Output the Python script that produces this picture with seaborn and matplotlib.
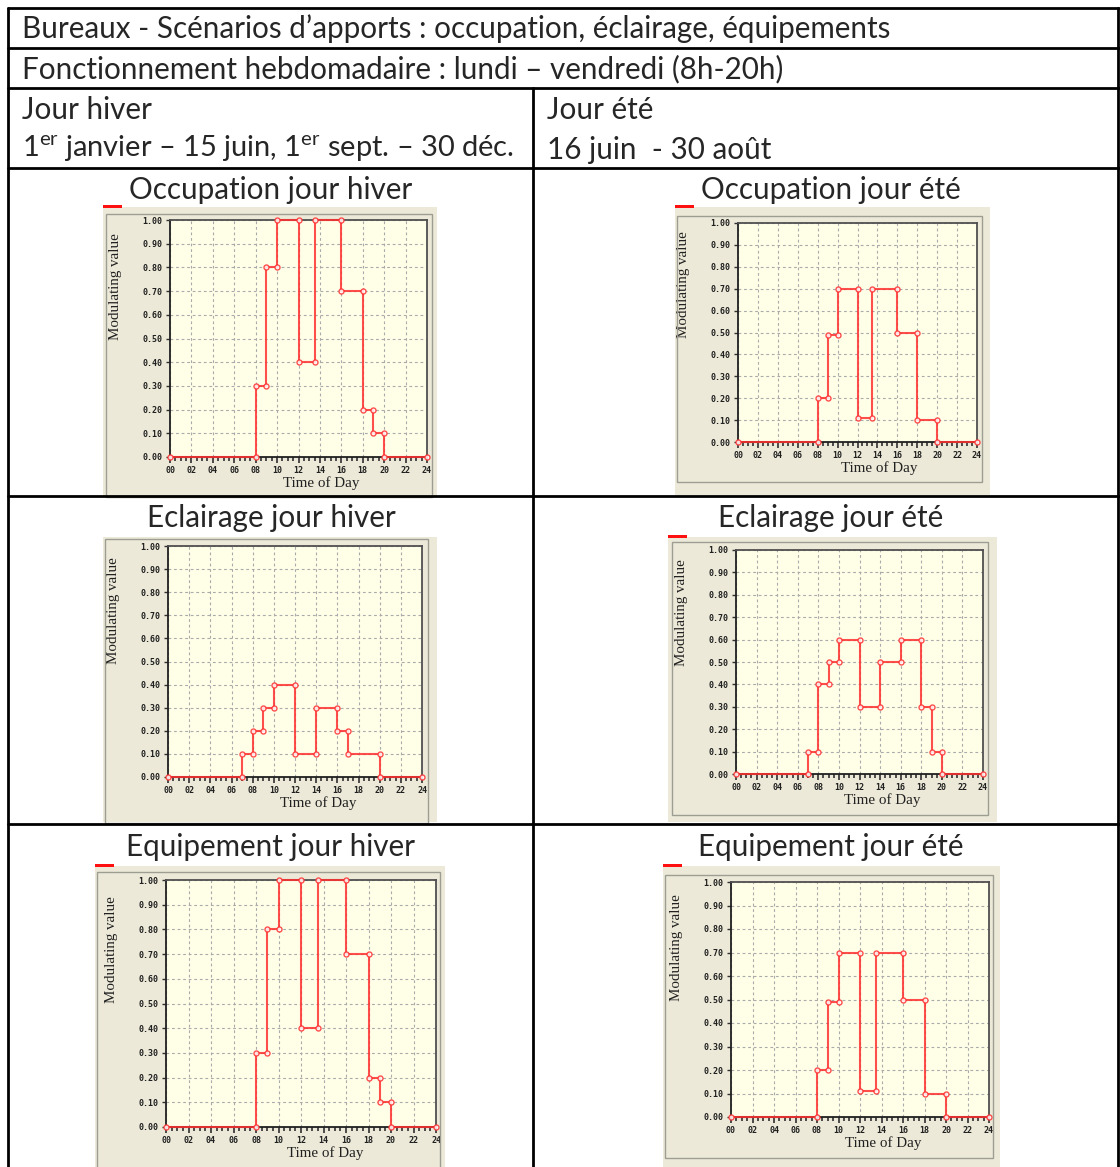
import numpy as np
import pandas as pd
import matplotlib
matplotlib.use("Agg")
import matplotlib.pyplot as plt
import seaborn as sns
from matplotlib.patches import Rectangle
from matplotlib.lines import Line2D
from matplotlib.ticker import MultipleLocator, FixedLocator

# ---------------- data ----------------
occ_hiver_hours = [0, 8, 9, 10, 12, 13.5, 16, 18, 19, 20, 24]
occ_hiver_values = [0.0, 0.3, 0.8, 1.0, 0.4, 1.0, 0.7, 0.2, 0.1, 0.0]

occ_ete_hours = [0, 8, 9, 10, 12, 13.5, 16, 18, 20, 24]
occ_ete_values = [0.0, 0.2, 0.49, 0.7, 0.11, 0.7, 0.5, 0.1, 0.0]

ecl_hiver_hours = [0, 7, 8, 9, 10, 12, 14, 16, 17, 20, 24]
ecl_hiver_values = [0.0, 0.1, 0.2, 0.3, 0.4, 0.1, 0.3, 0.2, 0.1, 0.0]

ecl_ete_hours = [0, 7, 8, 9, 10, 12, 14, 16, 18, 19, 20, 24]
ecl_ete_values = [0.0, 0.1, 0.4, 0.5, 0.6, 0.3, 0.5, 0.6, 0.3, 0.1, 0.0]

equ_hiver_hours = [0, 8, 9, 10, 12, 13.5, 16, 18, 19, 20, 24]
equ_hiver_values = [0.0, 0.3, 0.8, 1.0, 0.4, 1.0, 0.7, 0.2, 0.1, 0.0]

equ_ete_hours = [0, 8, 9, 10, 12, 13.5, 16, 18, 20, 24]
equ_ete_values = [0.0, 0.2, 0.49, 0.7, 0.11, 0.7, 0.5, 0.1, 0.0]

y_ticks = [0.0, 0.1, 0.2, 0.3, 0.4, 0.5, 0.6, 0.7, 0.8, 0.9, 1.0]
y_tick_labels = ["0.00", "0.10", "0.20", "0.30", "0.40", "0.50",
                 "0.60", "0.70", "0.80", "0.90", "1.00"]
x_ticks = [0, 2, 4, 6, 8, 10, 12, 14, 16, 18, 20, 22, 24]
x_tick_labels = ["00", "02", "04", "06", "08", "10", "12",
                 "14", "16", "18", "20", "22", "24"]

title_main = "Bureaux - Scénarios d\u2019apports : occupation, éclairage, équipements"
title_week = "Fonctionnement hebdomadaire : lundi \u2013 vendredi (8h-20h)"
col_hiver = "Jour hiver"
period_hiver = "1$^{\\mathrm{er}}$ janvier \u2013 15 juin, 1$^{\\mathrm{er}}$ sept. \u2013 30 déc."
col_ete = "Jour été"
period_ete = "16 juin  - 30 août"
chart_titles = ["Occupation jour hiver", "Occupation jour été",
                "Eclairage jour hiver", "Eclairage jour été",
                "Equipement jour hiver", "Equipement jour été"]

# ---------------- style ----------------
sns.set_theme(style="white")
plt.rcParams["font.family"] = ["Lato", "DejaVu Sans"]
plt.rcParams["mathtext.fontset"] = "custom"
plt.rcParams["mathtext.rm"] = "Lato"

W, H = 1120, 1167
fig = plt.figure(figsize=(W / 100, H / 100), dpi=100)
fig.patch.set_facecolor("white")


def fx(x):
    return x / W


def fy(y):
    return 1 - y / H


def hline(y, x0, x1, lw=2.0, color="black"):
    fig.add_artist(Line2D([fx(x0), fx(x1)], [fy(y), fy(y)], color=color, lw=lw,
                          transform=fig.transFigure))


def vline(x, y0, y1, lw=2.0, color="black"):
    fig.add_artist(Line2D([fx(x), fx(x)], [fy(y0), fy(y1)], color=color, lw=lw,
                          transform=fig.transFigure))


def rect(x0, y0, x1, y1, **kw):
    fig.add_artist(Rectangle((fx(x0), fy(y1)), fx(x1) - fx(x0), fy(y0) - fy(y1),
                             transform=fig.transFigure, **kw))


# ---------------- table ----------------
for yy in [8, 48, 88, 168, 496, 824]:
    hline(yy, 8, 1119)
vline(8, 8, 1167)
vline(1118, 8, 1167)
vline(533, 88, 1167)

TFS = 21.3
fig.text(fx(22), fy(29), title_main, fontsize=TFS, va="center", ha="left")
fig.text(fx(22), fy(69), title_week, fontsize=TFS, va="center", ha="left")
fig.text(fx(22), fy(110), col_hiver, fontsize=TFS, va="center", ha="left")
fig.text(fx(22), fy(149), period_hiver, fontsize=20.9, va="center", ha="left")
fig.text(fx(547), fy(110), col_ete, fontsize=TFS, va="center", ha="left")
fig.text(fx(547), fy(150), period_ete, fontsize=TFS, va="center", ha="left")

# ---------------- charts ----------------
charts = [
    # hours, values, panel outer, panel inner, plot area (x0, y1, x24, y0), title center, swatch
    (occ_hiver_hours, occ_hiver_values, (103, 207, 437, 496), (106, 214, 432, 497),
     (170, 220, 427, 457), (271, 190), True),
    (occ_ete_hours, occ_ete_values, (675, 207, 990, 495), (677, 216, 982, 482),
     (738, 223, 977, 442), (831, 190), True),
    (ecl_hiver_hours, ecl_hiver_values, (103, 537, 437, 822), (105, 539, 428, 823),
     (168, 546, 422, 777), (271, 518), False),
    (ecl_ete_hours, ecl_ete_values, (668, 537, 997, 822), (672, 542, 988, 815),
     (736, 550, 983, 774), (831, 518), True),
    (equ_hiver_hours, equ_hiver_values, (95, 866, 445, 1167), (97, 872, 440, 1168),
     (166, 880, 436, 1127), (271, 847), True),
    (equ_ete_hours, equ_ete_values, (663, 866, 1000, 1167), (665, 875, 993, 1158),
     (731, 882, 989, 1117), (831, 847), True),
]

line_red = "#ff3030"
grid_col = "#aaaaaa"

for i, (hours, values, outer, inner, area, tpos, swatch) in enumerate(charts):
    fig.text(fx(tpos[0]), fy(tpos[1]), chart_titles[i], fontsize=TFS,
             ha="center", va="center")
    rect(*outer, facecolor="#ece9d8", edgecolor="none", zorder=0)
    rect(*inner, facecolor="none", edgecolor="#9d9d92", lw=1.0, zorder=1)
    if swatch:
        rect(outer[0], outer[1] - 2, outer[0] + 19, outer[1] + 1,
             facecolor="#ff1010", edgecolor="none", zorder=2)

    x0, y1, x24, y0 = area
    aw, ah = x24 - x0, y0 - y1
    ax = fig.add_axes([fx(x0), fy(y0), fx(x24) - fx(x0), fy(y1) - fy(y0)])
    ax.set_facecolor("#ffffe8")

    xs, ys = [], []
    for k, v in enumerate(values):
        xs += [hours[k], hours[k + 1]]
        ys += [v, v]
    df = pd.DataFrame({"hour": xs, "value": ys})
    sns.lineplot(data=df, x="hour", y="value", ax=ax, sort=False, estimator=None,
                 color=line_red, lw=1.5, alpha=0.85, marker="o", markersize=3.6,
                 markerfacecolor="white", markeredgecolor=line_red,
                 markeredgewidth=1.0, clip_on=False, zorder=5, legend=False)

    ax.set_xlim(0, 24)
    ax.set_ylim(0, 1)
    ax.xaxis.set_major_locator(FixedLocator(x_ticks))
    ax.xaxis.set_minor_locator(MultipleLocator(0.5))
    ax.yaxis.set_major_locator(FixedLocator(y_ticks))
    ax.set_xticklabels(x_tick_labels, family="DejaVu Sans Mono",
                       fontsize=6.0, fontweight="bold", color="#202020")
    ax.set_yticklabels(y_tick_labels, family="DejaVu Sans Mono",
                       fontsize=6.0, fontweight="bold", color="#202020")
    ax.tick_params(axis="x", which="major", length=4, width=1.2, color="#303030",
                   direction="out", pad=2.5, bottom=True)
    ax.tick_params(axis="x", which="minor", length=3, width=1.2, color="#303030",
                   direction="out", bottom=True)
    ax.tick_params(axis="y", which="major", length=3, width=1.0, color="#303030",
                   direction="out", pad=2.5, left=True)
    ax.grid(True, which="major", color=grid_col, lw=0.8, ls=(0, (2.5, 2.5)))
    for side, sp in ax.spines.items():
        sp.set_visible(True)
        sp.set_color("#505050" if side in ("top", "right") else "#202020")
        sp.set_linewidth(1.3)
    ax.set_xlabel("Time of Day", family="Liberation Serif", fontsize=10.8,
                  color="#202020")
    ax.set_ylabel("Modulating value", family="Liberation Serif", fontsize=10.8,
                  color="#202020")
    ax.xaxis.set_label_coords(0.59, -19 / ah)
    ax.yaxis.set_label_coords(-48 / aw, 0.72)

fig.savefig("out.png", dpi=100, facecolor="white")
